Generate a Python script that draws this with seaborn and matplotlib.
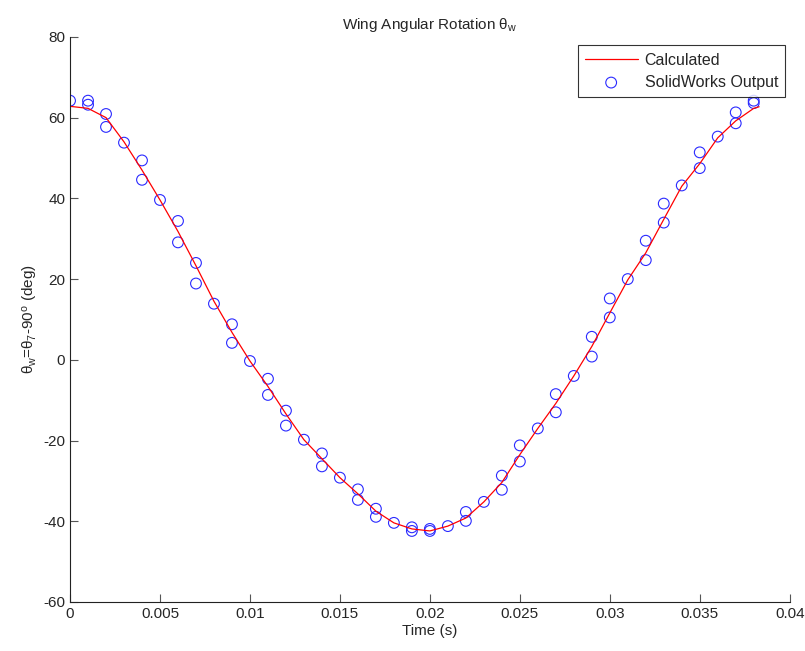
import numpy as np
import pandas as pd
import matplotlib
matplotlib.use("Agg")
import matplotlib.pyplot as plt
import seaborn as sns

# ===================== DATA =====================
# calculated curve
calc_t = [0.0, 0.001, 0.002, 0.003, 0.004, 0.005, 0.006, 0.007, 0.008, 0.009,
          0.010, 0.011, 0.012, 0.013, 0.014, 0.015, 0.016, 0.017, 0.018, 0.019,
          0.020, 0.021, 0.022, 0.023, 0.024, 0.025, 0.026, 0.027, 0.028, 0.029,
          0.030, 0.031, 0.032, 0.033, 0.034, 0.035, 0.036, 0.037, 0.038, 0.0383]
calc_theta = [62.8, 62.3, 60.0, 54.0, 47.0, 39.6, 31.8, 23.3, 14.5, 6.8,
              -0.3, -6.6, -13.4, -19.8, -24.5, -29.2, -33.2, -37.5, -40.4, -41.9,
              -42.4, -41.2, -39.2, -35.2, -30.4, -23.5, -17.0, -10.8, -4.0, 3.3,
              11.6, 19.8, 26.5, 34.8, 43.0, 48.6, 55.0, 59.2, 62.3, 62.7]

# SolidWorks samples
sw_t = [0.0, 0.001, 0.001, 0.002, 0.002, 0.003, 0.004, 0.004, 0.005, 0.006,
        0.006, 0.007, 0.007, 0.008, 0.009, 0.009, 0.010, 0.011, 0.011, 0.012,
        0.012, 0.013, 0.014, 0.014, 0.015, 0.016, 0.016, 0.017, 0.017, 0.018,
        0.019, 0.019, 0.020, 0.020, 0.021, 0.022, 0.022, 0.023, 0.024, 0.024,
        0.025, 0.025, 0.026, 0.027, 0.027, 0.028, 0.029, 0.029, 0.030, 0.030,
        0.031, 0.032, 0.032, 0.033, 0.033, 0.034, 0.035, 0.035, 0.036, 0.037,
        0.037, 0.038, 0.038]
sw_theta = [64.2, 64.2, 63.2, 60.9, 57.7, 53.8, 49.4, 44.6, 39.6, 34.4,
            29.1, 24.0, 18.9, 13.9, 8.8, 4.2, -0.3, -4.7, -8.7, -12.6,
            -16.3, -19.8, -23.2, -26.4, -29.2, -32.1, -34.7, -36.9, -38.9, -40.4,
            -41.5, -42.4, -41.9, -42.4, -41.2, -37.7, -39.9, -35.2, -28.7, -32.2,
            -21.2, -25.2, -17.0, -8.5, -13.0, -4.0, 5.7, 0.8, 15.2, 10.5,
            20.0, 29.5, 24.7, 38.7, 34.0, 43.2, 51.4, 47.5, 55.3, 61.3,
            58.6, 64.2, 63.6]

calc_df = pd.DataFrame({"t": calc_t, "theta": calc_theta})
sw_df = pd.DataFrame({"t": sw_t, "theta": sw_theta})

# ===================== PLOT =====================
sns.set_style("white")
plt.rcParams["font.family"] = ["Liberation Sans", "DejaVu Sans"]
plt.rcParams["mathtext.fontset"] = "custom"
plt.rcParams["mathtext.rm"] = "Liberation Sans"
plt.rcParams["mathtext.it"] = "Liberation Sans"
plt.rcParams["axes.unicode_minus"] = False

fig = plt.figure(figsize=(8.05, 6.51), dpi=100)
ax = fig.add_axes([0.087, 0.0753, 0.894, 0.868])

sns.lineplot(data=calc_df, x="t", y="theta", color="red", lw=0.9,
             label="Calculated", ax=ax)
sns.scatterplot(data=sw_df, x="t", y="theta", marker="o", s=60,
                facecolor="none", edgecolor="#2a2aff", linewidth=0.8,
                label="SolidWorks Output", ax=ax)

ax.set_xlim(0, 0.04)
ax.set_ylim(-60, 80)
ax.set_xticks(np.arange(0, 0.0401, 0.005))
ax.set_xticklabels(["0", "0.005", "0.01", "0.015", "0.02", "0.025",
                    "0.03", "0.035", "0.04"])
ax.set_yticks(range(-60, 81, 20))

ax.set_title(r"Wing Angular Rotation $\theta_w$", fontsize=11)
ax.set_xlabel("Time (s)", fontsize=11, labelpad=2)
ax.set_ylabel(r"$\theta_w$=$\theta_7$-90$^o$ (deg)", fontsize=11, labelpad=2)

for side in ["top", "right"]:
    ax.spines[side].set_visible(False)
for side in ["left", "bottom"]:
    ax.spines[side].set_color("#222222")
    ax.spines[side].set_linewidth(0.8)
ax.tick_params(direction="in", length=6, width=0.8, color="#555555",
               labelsize=11, left=True, bottom=True)

leg = ax.legend(loc="upper right", fontsize=11.5, frameon=True, fancybox=False,
                bbox_to_anchor=(0.994, 0.985), borderaxespad=0,
                handlelength=3.3, handletextpad=0.45, borderpad=0.45,
                labelspacing=0.45)
leg.get_frame().set_edgecolor("black")
leg.get_frame().set_linewidth(0.8)

fig.savefig("out.png", dpi=100)
